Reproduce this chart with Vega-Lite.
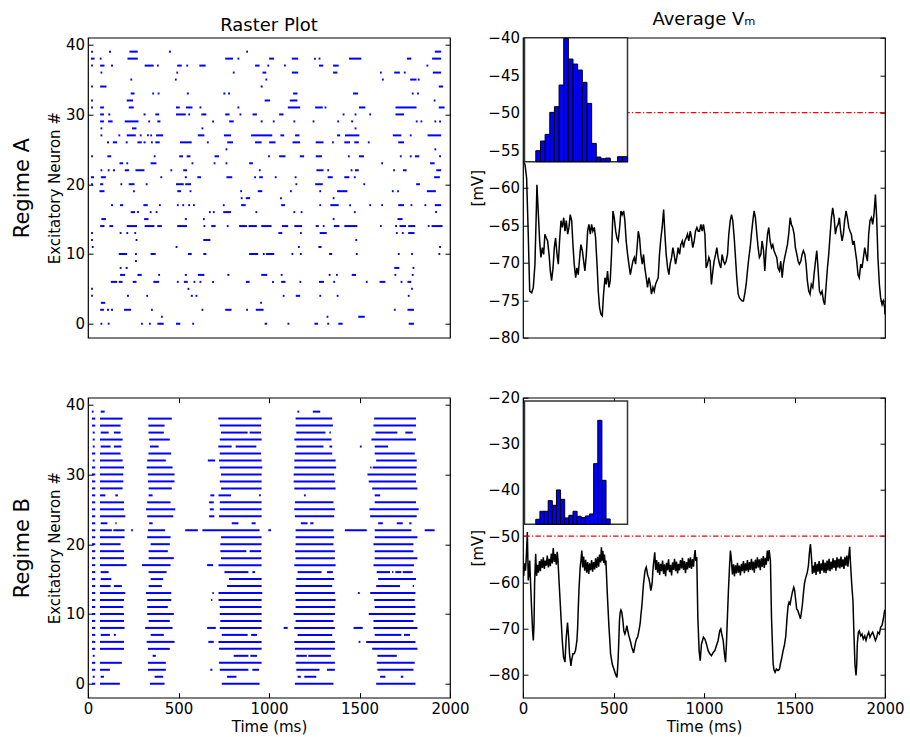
{
"$schema": "https://vega.github.io/schema/vega-lite/v6.json",
"background": "white",
"padding": {"left": 10, "top": 9.7, "right": 5, "bottom": 0},
"spacing": 43,
"config": {
  "font": "DejaVu Sans",
  "view": {"stroke": "#000", "strokeWidth": 1.2},
  "axis": {"domain": false, "grid": false, "tickColor": "#000", "tickSize": -5, "tickWidth": 1, "labelFont": "DejaVu Sans", "labelFontSize": 15, "labelColor": "#000", "labelPadding": 8.5, "labelFlush": false, "labelOverlap": false, "titleFont": "DejaVu Sans", "titleFontSize": 15, "titleFontWeight": "normal", "titleColor": "#000", "format": "d"},
  "axisX": {"titlePadding": 3},
  "axisY": {"titlePadding": 2.5},
  "title": {"font": "DejaVu Sans", "fontSize": 18, "fontWeight": "normal", "color": "#000"}
},
"datasets": {
"rasterA": [
{"n":39,"t0":17,"t1":27},{"n":39,"t0":116,"t1":127},{"n":39,"t0":229,"t1":275},{"n":39,"t0":447,"t1":458},{"n":39,"t0":874,"t1":884},{"n":39,"t0":1916,"t1":1951},
{"n":38,"t0":16,"t1":36},{"n":38,"t0":65,"t1":75},{"n":38,"t0":218,"t1":275},{"n":38,"t0":758,"t1":801},{"n":38,"t0":826,"t1":836},{"n":38,"t0":1001,"t1":1028},{"n":38,"t0":1126,"t1":1161},{"n":38,"t0":1249,"t1":1259},{"n":38,"t0":1274,"t1":1284},{"n":38,"t0":1442,"t1":1510},{"n":38,"t0":1762,"t1":1786},{"n":38,"t0":1901,"t1":1951},
{"n":37,"t0":17,"t1":27},{"n":37,"t0":67,"t1":91},{"n":37,"t0":127,"t1":138},{"n":37,"t0":313,"t1":363},{"n":37,"t0":381,"t1":391},{"n":37,"t0":493,"t1":518},{"n":37,"t0":543,"t1":553},{"n":37,"t0":615,"t1":650},{"n":37,"t0":923,"t1":948},{"n":37,"t0":991,"t1":1001},{"n":37,"t0":1083,"t1":1093},{"n":37,"t0":1276,"t1":1300},{"n":37,"t0":1354,"t1":1385},{"n":37,"t0":1870,"t1":1880},
{"n":36,"t0":69,"t1":79},{"n":36,"t0":488,"t1":498},{"n":36,"t0":800,"t1":810},{"n":36,"t0":964,"t1":985},{"n":36,"t0":1126,"t1":1161},{"n":36,"t0":1354,"t1":1378},{"n":36,"t0":1613,"t1":1623},{"n":36,"t0":1692,"t1":1723},{"n":36,"t0":1745,"t1":1755},{"n":36,"t0":1905,"t1":1951},
{"n":35,"t0":234,"t1":244},{"n":35,"t0":480,"t1":490},{"n":35,"t0":980,"t1":990},{"n":35,"t0":1624,"t1":1634},{"n":35,"t0":1780,"t1":1815},{"n":35,"t0":1822,"t1":1832},
{"n":34,"t0":17,"t1":27},{"n":34,"t0":67,"t1":102},{"n":34,"t0":954,"t1":965},{"n":34,"t0":1938,"t1":1962},
{"n":33,"t0":236,"t1":257},{"n":33,"t0":355,"t1":365},{"n":33,"t0":385,"t1":395},{"n":33,"t0":546,"t1":557},{"n":33,"t0":748,"t1":759},{"n":33,"t0":774,"t1":785},{"n":33,"t0":1133,"t1":1157},{"n":33,"t0":1464,"t1":1492},{"n":33,"t0":1789,"t1":1799},{"n":33,"t0":1818,"t1":1828},
{"n":32,"t0":17,"t1":27},{"n":32,"t0":214,"t1":249},{"n":32,"t0":976,"t1":1006},{"n":32,"t0":1115,"t1":1157},{"n":32,"t0":1910,"t1":1920},
{"n":31,"t0":17,"t1":27},{"n":31,"t0":67,"t1":88},{"n":31,"t0":225,"t1":253},{"n":31,"t0":486,"t1":507},{"n":31,"t0":541,"t1":577},{"n":31,"t0":616,"t1":626},{"n":31,"t0":826,"t1":836},{"n":31,"t0":1104,"t1":1172},{"n":31,"t0":1255,"t1":1297},{"n":31,"t0":1307,"t1":1317},{"n":31,"t0":1497,"t1":1532},{"n":31,"t0":1699,"t1":1815},{"n":31,"t0":1938,"t1":1970},
{"n":30,"t0":67,"t1":88},{"n":30,"t0":112,"t1":123},{"n":30,"t0":307,"t1":318},{"n":30,"t0":372,"t1":393},{"n":30,"t0":486,"t1":540},{"n":30,"t0":554,"t1":564},{"n":30,"t0":626,"t1":654},{"n":30,"t0":758,"t1":782},{"n":30,"t0":837,"t1":847},{"n":30,"t0":909,"t1":933},{"n":30,"t0":1056,"t1":1080},{"n":30,"t0":1407,"t1":1417},{"n":30,"t0":1473,"t1":1483},{"n":30,"t0":1554,"t1":1564},{"n":30,"t0":1699,"t1":1746},
{"n":29,"t0":67,"t1":88},{"n":29,"t0":111,"t1":136},{"n":29,"t0":203,"t1":279},{"n":29,"t0":333,"t1":343},{"n":29,"t0":383,"t1":400},{"n":29,"t0":686,"t1":696},{"n":29,"t0":780,"t1":805},{"n":29,"t0":954,"t1":965},{"n":29,"t0":1021,"t1":1031},{"n":29,"t0":1135,"t1":1145},{"n":29,"t0":1241,"t1":1251},{"n":29,"t0":1377,"t1":1387},{"n":29,"t0":1454,"t1":1465},{"n":29,"t0":1811,"t1":1821},{"n":29,"t0":1837,"t1":1847},{"n":29,"t0":1914,"t1":1924},{"n":29,"t0":1940,"t1":1950},
{"n":28,"t0":69,"t1":79},{"n":28,"t0":243,"t1":268},{"n":28,"t0":627,"t1":637},{"n":28,"t0":1473,"t1":1483},
{"n":27,"t0":69,"t1":79},{"n":27,"t0":168,"t1":178},{"n":27,"t0":214,"t1":264},{"n":27,"t0":286,"t1":296},{"n":27,"t0":326,"t1":336},{"n":27,"t0":344,"t1":354},{"n":27,"t0":376,"t1":415},{"n":27,"t0":607,"t1":643},{"n":27,"t0":751,"t1":790},{"n":27,"t0":901,"t1":1018},{"n":27,"t0":1063,"t1":1084},{"n":27,"t0":1144,"t1":1168},{"n":27,"t0":1376,"t1":1393},{"n":27,"t0":1420,"t1":1499},{"n":27,"t0":1684,"t1":1731},{"n":27,"t0":1778,"t1":1788},{"n":27,"t0":1876,"t1":1951},
{"n":26,"t0":105,"t1":116},{"n":26,"t0":137,"t1":161},{"n":26,"t0":208,"t1":219},{"n":26,"t0":273,"t1":297},{"n":26,"t0":307,"t1":318},{"n":26,"t0":348,"t1":358},{"n":26,"t0":372,"t1":396},{"n":26,"t0":508,"t1":573},{"n":26,"t0":657,"t1":667},{"n":26,"t0":769,"t1":801},{"n":26,"t0":923,"t1":959},{"n":26,"t0":1001,"t1":1036},{"n":26,"t0":1130,"t1":1172},{"n":26,"t0":1258,"t1":1301},{"n":26,"t0":1348,"t1":1358},{"n":26,"t0":1416,"t1":1448},{"n":26,"t0":1471,"t1":1496},{"n":26,"t0":1546,"t1":1556},{"n":26,"t0":1714,"t1":1746},
{"n":25,"t0":760,"t1":770},{"n":25,"t0":1914,"t1":1924},
{"n":24,"t0":17,"t1":27},{"n":24,"t0":107,"t1":128},{"n":24,"t0":363,"t1":373},{"n":24,"t0":504,"t1":525},{"n":24,"t0":545,"t1":566},{"n":24,"t0":699,"t1":724},{"n":24,"t0":995,"t1":1005},{"n":24,"t0":1056,"t1":1091},{"n":24,"t0":1170,"t1":1194},{"n":24,"t0":1258,"t1":1293},{"n":24,"t0":1436,"t1":1446},{"n":24,"t0":1497,"t1":1525},{"n":24,"t0":1723,"t1":1733},{"n":24,"t0":1778,"t1":1788},{"n":24,"t0":1806,"t1":1830},{"n":24,"t0":1940,"t1":1950},
{"n":23,"t0":174,"t1":194},{"n":23,"t0":212,"t1":222},{"n":23,"t0":346,"t1":378},{"n":23,"t0":572,"t1":582},{"n":23,"t0":694,"t1":704},{"n":23,"t0":760,"t1":770},{"n":23,"t0":890,"t1":911},{"n":23,"t0":1620,"t1":1630},{"n":23,"t0":1890,"t1":1915},
{"n":22,"t0":69,"t1":79},{"n":22,"t0":109,"t1":119},{"n":22,"t0":138,"t1":149},{"n":22,"t0":203,"t1":227},{"n":22,"t0":262,"t1":312},{"n":22,"t0":455,"t1":465},{"n":22,"t0":526,"t1":547},{"n":22,"t0":944,"t1":954},{"n":22,"t0":1262,"t1":1301},{"n":22,"t0":1322,"t1":1332},{"n":22,"t0":1451,"t1":1461},{"n":22,"t0":1475,"t1":1496},{"n":22,"t0":1686,"t1":1696},{"n":22,"t0":1740,"t1":1760},{"n":22,"t0":1924,"t1":1951},
{"n":21,"t0":16,"t1":33},{"n":21,"t0":71,"t1":99},{"n":21,"t0":400,"t1":410},{"n":21,"t0":535,"t1":546},{"n":21,"t0":604,"t1":624},{"n":21,"t0":765,"t1":797},{"n":21,"t0":918,"t1":928},{"n":21,"t0":946,"t1":966},{"n":21,"t0":1032,"t1":1042},{"n":21,"t0":1142,"t1":1152},{"n":21,"t0":1324,"t1":1352},{"n":21,"t0":1416,"t1":1444},{"n":21,"t0":1469,"t1":1479},{"n":21,"t0":1912,"t1":1944},
{"n":20,"t0":17,"t1":27},{"n":20,"t0":67,"t1":84},{"n":20,"t0":179,"t1":189},{"n":20,"t0":225,"t1":257},{"n":20,"t0":319,"t1":329},{"n":20,"t0":486,"t1":529},{"n":20,"t0":537,"t1":569},{"n":20,"t0":1146,"t1":1156},{"n":20,"t0":1255,"t1":1297},{"n":20,"t0":1521,"t1":1531},{"n":20,"t0":1813,"t1":1834},
{"n":19,"t0":63,"t1":91},{"n":19,"t0":249,"t1":259},{"n":19,"t0":493,"t1":514},{"n":19,"t0":561,"t1":571},{"n":19,"t0":841,"t1":851},{"n":19,"t0":938,"t1":963},{"n":19,"t0":1116,"t1":1126},{"n":19,"t0":1278,"t1":1288},{"n":19,"t0":1376,"t1":1433},{"n":19,"t0":1679,"t1":1689},{"n":19,"t0":1708,"t1":1718},{"n":19,"t0":1872,"t1":1922},
{"n":18,"t0":844,"t1":854},{"n":18,"t0":872,"t1":896},{"n":18,"t0":1061,"t1":1071},{"n":18,"t0":1352,"t1":1362},
{"n":17,"t0":127,"t1":138},{"n":17,"t0":177,"t1":194},{"n":17,"t0":306,"t1":330},{"n":17,"t0":392,"t1":402},{"n":17,"t0":491,"t1":501},{"n":17,"t0":521,"t1":531},{"n":17,"t0":554,"t1":564},{"n":17,"t0":580,"t1":590},{"n":17,"t0":745,"t1":755},{"n":17,"t0":846,"t1":871},{"n":17,"t0":1067,"t1":1088},{"n":17,"t0":1278,"t1":1288},{"n":17,"t0":1339,"t1":1385},{"n":17,"t0":1443,"t1":1453},{"n":17,"t0":1554,"t1":1564},{"n":17,"t0":1620,"t1":1630},{"n":17,"t0":1714,"t1":1746},{"n":17,"t0":1782,"t1":1792},{"n":17,"t0":1859,"t1":1869},{"n":17,"t0":1916,"t1":1951},
{"n":16,"t0":236,"t1":260},{"n":16,"t0":271,"t1":281},{"n":16,"t0":341,"t1":351},{"n":16,"t0":374,"t1":384},{"n":16,"t0":668,"t1":678},{"n":16,"t0":690,"t1":700},{"n":16,"t0":747,"t1":790},{"n":16,"t0":925,"t1":935},{"n":16,"t0":1135,"t1":1145},{"n":16,"t0":1175,"t1":1185},{"n":16,"t0":1469,"t1":1479},{"n":16,"t0":1918,"t1":1928},
{"n":15,"t0":74,"t1":99},{"n":15,"t0":310,"t1":334},{"n":15,"t0":535,"t1":546},{"n":15,"t0":635,"t1":645},{"n":15,"t0":1352,"t1":1362},{"n":15,"t0":1710,"t1":1738},
{"n":14,"t0":67,"t1":91},{"n":14,"t0":118,"t1":139},{"n":14,"t0":214,"t1":271},{"n":14,"t0":313,"t1":367},{"n":14,"t0":383,"t1":408},{"n":14,"t0":493,"t1":547},{"n":14,"t0":638,"t1":648},{"n":14,"t0":681,"t1":705},{"n":14,"t0":767,"t1":777},{"n":14,"t0":835,"t1":878},{"n":14,"t0":887,"t1":933},{"n":14,"t0":957,"t1":1014},{"n":14,"t0":1071,"t1":1106},{"n":14,"t0":1140,"t1":1183},{"n":14,"t0":1258,"t1":1275},{"n":14,"t0":1297,"t1":1307},{"n":14,"t0":1358,"t1":1389},{"n":14,"t0":1416,"t1":1488},{"n":14,"t0":1613,"t1":1623},{"n":14,"t0":1697,"t1":1707},{"n":14,"t0":1721,"t1":1757},{"n":14,"t0":1769,"t1":1808},{"n":14,"t0":1877,"t1":1887},{"n":14,"t0":1898,"t1":1959},
{"n":13,"t0":17,"t1":27},{"n":13,"t0":175,"t1":185},{"n":13,"t0":212,"t1":222},{"n":13,"t0":256,"t1":266},{"n":13,"t0":1052,"t1":1073},{"n":13,"t0":1171,"t1":1181},{"n":13,"t0":1280,"t1":1319},{"n":13,"t0":1701,"t1":1711},{"n":13,"t0":1734,"t1":1744},{"n":13,"t0":1769,"t1":1804},
{"n":12,"t0":17,"t1":27},{"n":12,"t0":263,"t1":273},{"n":12,"t0":637,"t1":676},{"n":12,"t0":1477,"t1":1487},
{"n":11,"t0":21,"t1":31},{"n":11,"t0":484,"t1":494},{"n":11,"t0":1160,"t1":1170},{"n":11,"t0":1273,"t1":1290},{"n":11,"t0":1940,"t1":1950},
{"n":10,"t0":170,"t1":216},{"n":10,"t0":260,"t1":270},{"n":10,"t0":346,"t1":374},{"n":10,"t0":552,"t1":573},{"n":10,"t0":637,"t1":654},{"n":10,"t0":890,"t1":940},{"n":10,"t0":966,"t1":976},{"n":10,"t0":983,"t1":1029},{"n":10,"t0":1124,"t1":1134},{"n":10,"t0":1171,"t1":1181},{"n":10,"t0":1332,"t1":1349},{"n":10,"t0":1480,"t1":1490},{"n":10,"t0":1712,"t1":1722},{"n":10,"t0":1785,"t1":1795},{"n":10,"t0":1936,"t1":1946},
{"n":9,"t0":260,"t1":270},
{"n":8,"t0":175,"t1":185},{"n":8,"t0":208,"t1":219},{"n":8,"t0":1692,"t1":1720},{"n":8,"t0":1793,"t1":1803},
{"n":7,"t0":177,"t1":205},{"n":7,"t0":273,"t1":297},{"n":7,"t0":388,"t1":398},{"n":7,"t0":535,"t1":546},{"n":7,"t0":607,"t1":643},{"n":7,"t0":770,"t1":781},{"n":7,"t0":957,"t1":990},{"n":7,"t0":1065,"t1":1075},{"n":7,"t0":1330,"t1":1340},{"n":7,"t0":1370,"t1":1380},{"n":7,"t0":1457,"t1":1481},{"n":7,"t0":1693,"t1":1703},{"n":7,"t0":1789,"t1":1799},
{"n":6,"t0":126,"t1":161},{"n":6,"t0":170,"t1":191},{"n":6,"t0":247,"t1":268},{"n":6,"t0":361,"t1":393},{"n":6,"t0":491,"t1":501},{"n":6,"t0":530,"t1":551},{"n":6,"t0":583,"t1":593},{"n":6,"t0":616,"t1":626},{"n":6,"t0":686,"t1":696},{"n":6,"t0":872,"t1":893},{"n":6,"t0":1017,"t1":1027},{"n":6,"t0":1067,"t1":1091},{"n":6,"t0":1168,"t1":1178},{"n":6,"t0":1276,"t1":1304},{"n":6,"t0":1355,"t1":1365},{"n":6,"t0":1535,"t1":1545},{"n":6,"t0":1611,"t1":1643},{"n":6,"t0":1727,"t1":1737},{"n":6,"t0":1765,"t1":1786},
{"n":5,"t0":17,"t1":27},{"n":5,"t0":550,"t1":560},{"n":5,"t0":1785,"t1":1795},
{"n":4,"t0":17,"t1":27},{"n":4,"t0":215,"t1":226},{"n":4,"t0":322,"t1":332},{"n":4,"t0":568,"t1":579},{"n":4,"t0":594,"t1":604},{"n":4,"t0":1076,"t1":1086},{"n":4,"t0":1148,"t1":1172},{"n":4,"t0":1278,"t1":1288},{"n":4,"t0":1374,"t1":1384},{"n":4,"t0":1767,"t1":1777},
{"n":3,"t0":71,"t1":95},{"n":3,"t0":951,"t1":961},
{"n":2,"t0":67,"t1":88},{"n":2,"t0":105,"t1":116},{"n":2,"t0":127,"t1":138},{"n":2,"t0":199,"t1":238},{"n":2,"t0":348,"t1":358},{"n":2,"t0":627,"t1":637},{"n":2,"t0":758,"t1":793},{"n":2,"t0":874,"t1":884},{"n":2,"t0":927,"t1":970},{"n":2,"t0":1690,"t1":1700},{"n":2,"t0":1765,"t1":1801},
{"n":1,"t0":403,"t1":413},{"n":1,"t0":1318,"t1":1328},{"n":1,"t0":1493,"t1":1529},
{"n":0,"t0":69,"t1":79},{"n":0,"t0":109,"t1":119},{"n":0,"t0":293,"t1":303},{"n":0,"t0":337,"t1":347},{"n":0,"t0":383,"t1":418},{"n":0,"t0":486,"t1":510},{"n":0,"t0":576,"t1":586},{"n":0,"t0":976,"t1":990},{"n":0,"t0":1102,"t1":1112},{"n":0,"t0":1251,"t1":1271},{"n":0,"t0":1322,"t1":1332},{"n":0,"t0":1383,"t1":1407},{"n":0,"t0":1772,"t1":1801}
],
"rasterB": [
{"n":39,"t0":21,"t1":31},{"n":39,"t0":70,"t1":92},{"n":39,"t0":1157,"t1":1167},{"n":39,"t0":1242,"t1":1283},
{"n":38,"t0":22,"t1":40},{"n":38,"t0":66,"t1":191},{"n":38,"t0":331,"t1":463},{"n":38,"t0":720,"t1":959},{"n":38,"t0":1147,"t1":1349},{"n":38,"t0":1581,"t1":1812},
{"n":37,"t0":22,"t1":40},{"n":37,"t0":66,"t1":180},{"n":37,"t0":334,"t1":423},{"n":37,"t0":728,"t1":956},{"n":37,"t0":1147,"t1":1353},{"n":37,"t0":1577,"t1":1812},
{"n":36,"t0":26,"t1":37},{"n":36,"t0":70,"t1":114},{"n":36,"t0":143,"t1":180},{"n":36,"t0":334,"t1":419},{"n":36,"t0":735,"t1":882},{"n":36,"t0":893,"t1":956},{"n":36,"t0":1151,"t1":1312},{"n":36,"t0":1334,"t1":1342},{"n":36,"t0":1588,"t1":1709},{"n":36,"t0":1753,"t1":1794},
{"n":35,"t0":26,"t1":37},{"n":35,"t0":66,"t1":191},{"n":35,"t0":338,"t1":452},{"n":35,"t0":728,"t1":959},{"n":35,"t0":1140,"t1":1345},{"n":35,"t0":1566,"t1":1812},
{"n":34,"t0":26,"t1":37},{"n":34,"t0":70,"t1":125},{"n":34,"t0":143,"t1":184},{"n":34,"t0":342,"t1":390},{"n":34,"t0":720,"t1":794},{"n":34,"t0":816,"t1":930},{"n":34,"t0":1151,"t1":1301},{"n":34,"t0":1334,"t1":1349},{"n":34,"t0":1502,"t1":1512},{"n":34,"t0":1584,"t1":1658},
{"n":33,"t0":22,"t1":40},{"n":33,"t0":66,"t1":180},{"n":33,"t0":334,"t1":459},{"n":33,"t0":728,"t1":956},{"n":33,"t0":1143,"t1":1349},{"n":33,"t0":1584,"t1":1805},
{"n":32,"t0":26,"t1":37},{"n":32,"t0":66,"t1":191},{"n":32,"t0":327,"t1":430},{"n":32,"t0":662,"t1":702},{"n":32,"t0":724,"t1":959},{"n":32,"t0":1140,"t1":1368},{"n":32,"t0":1592,"t1":1816},
{"n":31,"t0":22,"t1":40},{"n":31,"t0":66,"t1":199},{"n":31,"t0":324,"t1":467},{"n":31,"t0":728,"t1":963},{"n":31,"t0":1140,"t1":1371},{"n":31,"t0":1559,"t1":1566},{"n":31,"t0":1573,"t1":1816},
{"n":30,"t0":22,"t1":40},{"n":30,"t0":66,"t1":195},{"n":30,"t0":331,"t1":478},{"n":30,"t0":735,"t1":959},{"n":30,"t0":1136,"t1":1360},{"n":30,"t0":1544,"t1":1812},
{"n":29,"t0":22,"t1":40},{"n":29,"t0":66,"t1":195},{"n":29,"t0":331,"t1":478},{"n":29,"t0":728,"t1":959},{"n":29,"t0":1136,"t1":1364},{"n":29,"t0":1551,"t1":1812},
{"n":28,"t0":22,"t1":40},{"n":28,"t0":66,"t1":191},{"n":28,"t0":335,"t1":463},{"n":28,"t0":735,"t1":959},{"n":28,"t0":1140,"t1":1368},{"n":28,"t0":1570,"t1":1820},
{"n":27,"t0":22,"t1":40},{"n":27,"t0":66,"t1":96},{"n":27,"t0":151,"t1":165},{"n":27,"t0":335,"t1":357},{"n":27,"t0":676,"t1":698},{"n":27,"t0":721,"t1":790},{"n":27,"t0":945,"t1":955},{"n":27,"t0":1193,"t1":1203},{"n":27,"t0":1584,"t1":1614},
{"n":26,"t0":22,"t1":40},{"n":26,"t0":66,"t1":199},{"n":26,"t0":327,"t1":456},{"n":26,"t0":669,"t1":695},{"n":26,"t0":728,"t1":959},{"n":26,"t0":1143,"t1":1356},{"n":26,"t0":1584,"t1":1812},
{"n":25,"t0":22,"t1":40},{"n":25,"t0":66,"t1":199},{"n":25,"t0":320,"t1":482},{"n":25,"t0":673,"t1":695},{"n":25,"t0":728,"t1":959},{"n":25,"t0":1140,"t1":1364},{"n":25,"t0":1555,"t1":1827},
{"n":24,"t0":22,"t1":40},{"n":24,"t0":66,"t1":206},{"n":24,"t0":327,"t1":471},{"n":24,"t0":669,"t1":698},{"n":24,"t0":724,"t1":959},{"n":24,"t0":1143,"t1":1360},{"n":24,"t0":1559,"t1":1816},
{"n":23,"t0":22,"t1":40},{"n":23,"t0":70,"t1":107},{"n":23,"t0":151,"t1":158},{"n":23,"t0":338,"t1":357},{"n":23,"t0":794,"t1":831},{"n":23,"t0":904,"t1":926},{"n":23,"t0":1176,"t1":1213},{"n":23,"t0":1228,"t1":1246},{"n":23,"t0":1603,"t1":1629},{"n":23,"t0":1706,"t1":1739},{"n":23,"t0":1775,"t1":1787},
{"n":22,"t0":22,"t1":40},{"n":22,"t0":66,"t1":132},{"n":22,"t0":140,"t1":202},{"n":22,"t0":238,"t1":248},{"n":22,"t0":331,"t1":426},{"n":22,"t0":537,"t1":607},{"n":22,"t0":632,"t1":948},{"n":22,"t0":996,"t1":1011},{"n":22,"t0":1147,"t1":1356},{"n":22,"t0":1419,"t1":1540},{"n":22,"t0":1584,"t1":1787},{"n":22,"t0":1860,"t1":1915},
{"n":21,"t0":22,"t1":40},{"n":21,"t0":66,"t1":202},{"n":21,"t0":327,"t1":456},{"n":21,"t0":735,"t1":959},{"n":21,"t0":1147,"t1":1360},{"n":21,"t0":1584,"t1":1820},
{"n":20,"t0":22,"t1":40},{"n":20,"t0":66,"t1":180},{"n":20,"t0":346,"t1":452},{"n":20,"t0":731,"t1":959},{"n":20,"t0":1147,"t1":1356},{"n":20,"t0":1577,"t1":1798},
{"n":19,"t0":22,"t1":40},{"n":19,"t0":66,"t1":199},{"n":19,"t0":335,"t1":441},{"n":19,"t0":731,"t1":875},{"n":19,"t0":893,"t1":956},{"n":19,"t0":1143,"t1":1364},{"n":19,"t0":1584,"t1":1798},
{"n":18,"t0":22,"t1":40},{"n":18,"t0":66,"t1":199},{"n":18,"t0":335,"t1":474},{"n":18,"t0":735,"t1":959},{"n":18,"t0":1147,"t1":1364},{"n":18,"t0":1584,"t1":1820},
{"n":17,"t0":22,"t1":40},{"n":17,"t0":66,"t1":213},{"n":17,"t0":298,"t1":456},{"n":17,"t0":658,"t1":691},{"n":17,"t0":721,"t1":959},{"n":17,"t0":1140,"t1":1368},{"n":17,"t0":1577,"t1":1801},
{"n":16,"t0":22,"t1":40},{"n":16,"t0":70,"t1":114},{"n":16,"t0":335,"t1":434},{"n":16,"t0":754,"t1":886},{"n":16,"t0":908,"t1":923},{"n":16,"t0":1158,"t1":1290},{"n":16,"t0":1320,"t1":1353},{"n":16,"t0":1595,"t1":1669},{"n":16,"t0":1680,"t1":1687},{"n":16,"t0":1698,"t1":1731},{"n":16,"t0":1739,"t1":1794},
{"n":15,"t0":22,"t1":40},{"n":15,"t0":70,"t1":129},{"n":15,"t0":346,"t1":415},{"n":15,"t0":779,"t1":959},{"n":15,"t0":1151,"t1":1360},{"n":15,"t0":1603,"t1":1812},
{"n":14,"t0":22,"t1":40},{"n":14,"t0":66,"t1":125},{"n":14,"t0":143,"t1":187},{"n":14,"t0":335,"t1":408},{"n":14,"t0":768,"t1":959},{"n":14,"t0":1147,"t1":1349},{"n":14,"t0":1592,"t1":1724},{"n":14,"t0":1794,"t1":1801},
{"n":13,"t0":22,"t1":40},{"n":13,"t0":66,"t1":206},{"n":13,"t0":320,"t1":460},{"n":13,"t0":687,"t1":695},{"n":13,"t0":721,"t1":963},{"n":13,"t0":1143,"t1":1364},{"n":13,"t0":1491,"t1":1501},{"n":13,"t0":1559,"t1":1809},
{"n":12,"t0":22,"t1":40},{"n":12,"t0":66,"t1":199},{"n":12,"t0":327,"t1":460},{"n":12,"t0":680,"t1":687},{"n":12,"t0":721,"t1":959},{"n":12,"t0":1147,"t1":1368},{"n":12,"t0":1581,"t1":1805},
{"n":11,"t0":22,"t1":40},{"n":11,"t0":66,"t1":195},{"n":11,"t0":327,"t1":441},{"n":11,"t0":728,"t1":959},{"n":11,"t0":1147,"t1":1364},{"n":11,"t0":1584,"t1":1809},
{"n":10,"t0":22,"t1":40},{"n":10,"t0":66,"t1":199},{"n":10,"t0":327,"t1":474},{"n":10,"t0":728,"t1":959},{"n":10,"t0":1136,"t1":1364},{"n":10,"t0":1551,"t1":1809},
{"n":9,"t0":22,"t1":40},{"n":9,"t0":66,"t1":199},{"n":9,"t0":335,"t1":452},{"n":9,"t0":731,"t1":959},{"n":9,"t0":1147,"t1":1356},{"n":9,"t0":1577,"t1":1798},
{"n":8,"t0":22,"t1":40},{"n":8,"t0":66,"t1":202},{"n":8,"t0":316,"t1":467},{"n":8,"t0":658,"t1":706},{"n":8,"t0":728,"t1":959},{"n":8,"t0":1081,"t1":1103},{"n":8,"t0":1140,"t1":1364},{"n":8,"t0":1467,"t1":1518},{"n":8,"t0":1577,"t1":1820},
{"n":7,"t0":22,"t1":40},{"n":7,"t0":70,"t1":121},{"n":7,"t0":143,"t1":154},{"n":7,"t0":346,"t1":419},{"n":7,"t0":739,"t1":882},{"n":7,"t0":901,"t1":934},{"n":7,"t0":1158,"t1":1349},{"n":7,"t0":1584,"t1":1731},{"n":7,"t0":1746,"t1":1779},
{"n":6,"t0":22,"t1":40},{"n":6,"t0":66,"t1":199},{"n":6,"t0":324,"t1":478},{"n":6,"t0":665,"t1":695},{"n":6,"t0":721,"t1":959},{"n":6,"t0":1140,"t1":1364},{"n":6,"t0":1495,"t1":1505},{"n":6,"t0":1537,"t1":1809},
{"n":5,"t0":22,"t1":40},{"n":5,"t0":66,"t1":199},{"n":5,"t0":331,"t1":452},{"n":5,"t0":724,"t1":959},{"n":5,"t0":1143,"t1":1364},{"n":5,"t0":1570,"t1":1820},
{"n":4,"t0":26,"t1":37},{"n":4,"t0":357,"t1":375},{"n":4,"t0":805,"t1":886},{"n":4,"t0":897,"t1":934},{"n":4,"t0":1151,"t1":1209},{"n":4,"t0":1217,"t1":1342},{"n":4,"t0":1599,"t1":1706},
{"n":3,"t0":22,"t1":40},{"n":3,"t0":66,"t1":187},{"n":3,"t0":331,"t1":430},{"n":3,"t0":724,"t1":959},{"n":3,"t0":1147,"t1":1364},{"n":3,"t0":1595,"t1":1805},
{"n":2,"t0":22,"t1":40},{"n":2,"t0":66,"t1":121},{"n":2,"t0":331,"t1":430},{"n":2,"t0":676,"t1":687},{"n":2,"t0":728,"t1":886},{"n":2,"t0":908,"t1":945},{"n":2,"t0":1151,"t1":1279},{"n":2,"t0":1320,"t1":1364},{"n":2,"t0":1599,"t1":1798},
{"n":1,"t0":26,"t1":37},{"n":1,"t0":70,"t1":88},{"n":1,"t0":368,"t1":415},{"n":1,"t0":768,"t1":820},{"n":1,"t0":1158,"t1":1176},{"n":1,"t0":1195,"t1":1261},{"n":1,"t0":1614,"t1":1643},{"n":1,"t0":1728,"t1":1742},
{"n":0,"t0":22,"t1":40},{"n":0,"t0":66,"t1":176},{"n":0,"t0":342,"t1":423},{"n":0,"t0":739,"t1":948},{"n":0,"t0":1143,"t1":1356},{"n":0,"t0":1592,"t1":1809}
],
"vmA": [
{"t":0,"v":-56.4},{"t":11,"v":-56.9},{"t":20,"v":-58.7},{"t":29,"v":-66.2},{"t":37,"v":-73.8},{"t":48,"v":-74.0},{"t":57,"v":-73.3},{"t":66,"v":-70.2},{"t":74,"v":-62.7},{"t":77,"v":-59.6},
{"t":85,"v":-63.6},{"t":92,"v":-67.1},{"t":99,"v":-69.3},{"t":107,"v":-68.0},{"t":114,"v":-68.9},{"t":121,"v":-66.2},{"t":129,"v":-66.7},{"t":136,"v":-67.1},{"t":144,"v":-68.9},{"t":151,"v":-71.1},
{"t":158,"v":-72.4},{"t":166,"v":-70.7},{"t":173,"v":-68.0},{"t":180,"v":-66.7},{"t":188,"v":-68.9},{"t":195,"v":-70.2},{"t":202,"v":-67.1},{"t":210,"v":-64.4},{"t":217,"v":-65.3},{"t":225,"v":-64.0},
{"t":232,"v":-65.8},{"t":239,"v":-64.4},{"t":247,"v":-66.2},{"t":254,"v":-65.3},{"t":261,"v":-63.6},{"t":269,"v":-64.4},{"t":276,"v":-67.6},{"t":283,"v":-70.2},{"t":291,"v":-72.0},{"t":298,"v":-70.7},
{"t":305,"v":-71.6},{"t":313,"v":-69.3},{"t":320,"v":-67.6},{"t":328,"v":-68.4},{"t":335,"v":-69.8},{"t":342,"v":-71.1},{"t":350,"v":-68.9},{"t":357,"v":-65.8},{"t":364,"v":-64.9},{"t":372,"v":-66.2},
{"t":379,"v":-64.9},{"t":386,"v":-65.8},{"t":394,"v":-65.3},{"t":401,"v":-66.7},{"t":409,"v":-70.2},{"t":416,"v":-73.8},{"t":423,"v":-76.0},{"t":431,"v":-76.9},{"t":438,"v":-77.1},{"t":445,"v":-74.2},
{"t":453,"v":-72.0},{"t":460,"v":-72.9},{"t":467,"v":-71.1},{"t":475,"v":-73.3},{"t":482,"v":-72.4},{"t":489,"v":-68.9},{"t":497,"v":-63.1},{"t":504,"v":-64.0},{"t":512,"v":-65.8},{"t":519,"v":-66.7},
{"t":526,"v":-67.1},{"t":534,"v":-65.3},{"t":541,"v":-63.1},{"t":548,"v":-63.6},{"t":556,"v":-63.1},{"t":563,"v":-64.4},{"t":570,"v":-67.1},{"t":578,"v":-68.9},{"t":585,"v":-70.2},{"t":593,"v":-71.6},
{"t":600,"v":-70.7},{"t":607,"v":-69.8},{"t":615,"v":-69.3},{"t":622,"v":-70.2},{"t":629,"v":-68.4},{"t":637,"v":-65.8},{"t":644,"v":-66.7},{"t":651,"v":-68.9},{"t":659,"v":-70.2},{"t":666,"v":-68.9},
{"t":673,"v":-70.7},{"t":681,"v":-72.0},{"t":688,"v":-73.3},{"t":696,"v":-72.0},{"t":703,"v":-72.9},{"t":710,"v":-74.2},{"t":718,"v":-73.3},{"t":725,"v":-73.8},{"t":732,"v":-72.9},{"t":740,"v":-72.4},
{"t":747,"v":-72.0},{"t":754,"v":-68.9},{"t":762,"v":-66.7},{"t":769,"v":-65.3},{"t":777,"v":-62.9},{"t":784,"v":-66.2},{"t":791,"v":-68.9},{"t":799,"v":-70.7},{"t":806,"v":-71.6},{"t":813,"v":-70.2},
{"t":821,"v":-69.3},{"t":828,"v":-68.0},{"t":835,"v":-68.9},{"t":843,"v":-70.2},{"t":850,"v":-69.3},{"t":857,"v":-68.0},{"t":865,"v":-68.9},{"t":872,"v":-67.6},{"t":880,"v":-67.1},{"t":887,"v":-68.0},
{"t":894,"v":-67.1},{"t":902,"v":-66.7},{"t":909,"v":-66.2},{"t":916,"v":-67.1},{"t":924,"v":-65.8},{"t":931,"v":-66.7},{"t":938,"v":-68.0},{"t":946,"v":-67.1},{"t":953,"v":-65.8},{"t":961,"v":-65.3},
{"t":968,"v":-65.8},{"t":975,"v":-65.8},{"t":983,"v":-64.9},{"t":990,"v":-65.8},{"t":997,"v":-64.9},{"t":1005,"v":-66.2},{"t":1012,"v":-70.7},{"t":1019,"v":-70.2},{"t":1027,"v":-69.3},{"t":1034,"v":-69.8},
{"t":1041,"v":-72.9},{"t":1049,"v":-71.1},{"t":1056,"v":-69.8},{"t":1064,"v":-68.9},{"t":1071,"v":-68.0},{"t":1078,"v":-69.3},{"t":1086,"v":-70.2},{"t":1093,"v":-70.7},{"t":1100,"v":-68.9},{"t":1108,"v":-69.8},
{"t":1115,"v":-70.2},{"t":1122,"v":-69.8},{"t":1130,"v":-68.9},{"t":1137,"v":-66.2},{"t":1145,"v":-64.4},{"t":1152,"v":-63.6},{"t":1159,"v":-64.4},{"t":1167,"v":-66.7},{"t":1174,"v":-69.3},{"t":1181,"v":-72.0},
{"t":1189,"v":-74.2},{"t":1196,"v":-74.7},{"t":1203,"v":-74.9},{"t":1211,"v":-75.1},{"t":1218,"v":-75.1},{"t":1225,"v":-74.2},{"t":1233,"v":-72.9},{"t":1240,"v":-71.1},{"t":1248,"v":-69.3},{"t":1255,"v":-68.0},
{"t":1262,"v":-66.2},{"t":1270,"v":-64.4},{"t":1277,"v":-63.1},{"t":1284,"v":-64.0},{"t":1292,"v":-66.2},{"t":1299,"v":-68.0},{"t":1306,"v":-69.3},{"t":1314,"v":-68.9},{"t":1321,"v":-67.1},{"t":1329,"v":-68.4},
{"t":1336,"v":-71.1},{"t":1343,"v":-68.4},{"t":1351,"v":-66.2},{"t":1358,"v":-65.3},{"t":1365,"v":-67.1},{"t":1373,"v":-68.0},{"t":1380,"v":-67.6},{"t":1387,"v":-68.4},{"t":1395,"v":-68.9},{"t":1402,"v":-69.3},
{"t":1409,"v":-70.7},{"t":1417,"v":-71.1},{"t":1424,"v":-69.8},{"t":1432,"v":-72.0},{"t":1439,"v":-70.2},{"t":1446,"v":-69.3},{"t":1454,"v":-68.4},{"t":1461,"v":-67.6},{"t":1468,"v":-66.2},{"t":1476,"v":-64.0},
{"t":1483,"v":-64.9},{"t":1490,"v":-65.3},{"t":1498,"v":-66.2},{"t":1505,"v":-68.0},{"t":1513,"v":-68.9},{"t":1520,"v":-69.8},{"t":1527,"v":-70.2},{"t":1535,"v":-69.8},{"t":1542,"v":-68.9},{"t":1549,"v":-68.4},
{"t":1557,"v":-68.9},{"t":1564,"v":-70.2},{"t":1571,"v":-72.4},{"t":1579,"v":-73.8},{"t":1586,"v":-74.2},{"t":1593,"v":-72.9},{"t":1601,"v":-73.3},{"t":1608,"v":-71.6},{"t":1616,"v":-69.8},{"t":1623,"v":-68.4},
{"t":1630,"v":-70.7},{"t":1638,"v":-73.8},{"t":1645,"v":-74.2},{"t":1652,"v":-73.8},{"t":1660,"v":-75.1},{"t":1667,"v":-75.6},{"t":1674,"v":-73.3},{"t":1682,"v":-70.7},{"t":1689,"v":-68.9},{"t":1697,"v":-66.2},
{"t":1704,"v":-64.0},{"t":1711,"v":-62.7},{"t":1719,"v":-64.0},{"t":1726,"v":-66.2},{"t":1733,"v":-65.3},{"t":1741,"v":-64.9},{"t":1748,"v":-64.0},{"t":1755,"v":-65.8},{"t":1763,"v":-67.1},{"t":1770,"v":-66.2},
{"t":1777,"v":-64.4},{"t":1785,"v":-63.1},{"t":1792,"v":-64.0},{"t":1800,"v":-65.3},{"t":1807,"v":-65.8},{"t":1814,"v":-66.2},{"t":1822,"v":-67.6},{"t":1829,"v":-67.1},{"t":1836,"v":-68.4},{"t":1844,"v":-69.8},
{"t":1851,"v":-71.6},{"t":1858,"v":-72.0},{"t":1866,"v":-70.2},{"t":1873,"v":-70.7},{"t":1881,"v":-69.3},{"t":1888,"v":-68.0},{"t":1895,"v":-68.9},{"t":1903,"v":-69.8},{"t":1910,"v":-66.2},{"t":1917,"v":-64.4},
{"t":1925,"v":-64.0},{"t":1932,"v":-64.9},{"t":1939,"v":-63.6},{"t":1947,"v":-60.9},{"t":1954,"v":-64.0},{"t":1961,"v":-69.3},{"t":1969,"v":-72.9},{"t":1976,"v":-74.7},{"t":1984,"v":-75.6},{"t":1991,"v":-75.1},
{"t":1998,"v":-76.0},{"t":2000,"v":-76.9}
],
"vmB": [
{"t":0,"v":-56.5},{"t":4,"v":-58.6},{"t":8,"v":-55.9},{"t":11,"v":-56.4},{"t":14,"v":-57.5},{"t":18,"v":-54.6},{"t":21,"v":-52.0},{"t":24,"v":-49.1},{"t":27,"v":-55.3},{"t":29,"v":-59.6},
{"t":33,"v":-58.2},{"t":37,"v":-55.3},{"t":42,"v":-60.3},{"t":48,"v":-66.1},{"t":53,"v":-70.5},{"t":57,"v":-72.6},{"t":61,"v":-69.0},{"t":64,"v":-60.3},{"t":70,"v":-53.8},
{"t":75,"v":-58.6},{"t":80,"v":-56.2},{"t":85,"v":-57.9},{"t":91,"v":-55.4},{"t":96,"v":-57.6},{"t":101,"v":-55.0},{"t":107,"v":-56.9},{"t":112,"v":-54.6},{"t":118,"v":-57.1},{"t":123,"v":-55.3},
{"t":129,"v":-56.4},{"t":134,"v":-54.2},{"t":140,"v":-56.8},{"t":145,"v":-54.9},{"t":151,"v":-56.5},{"t":156,"v":-53.8},{"t":162,"v":-55.9},{"t":167,"v":-52.6},{"t":173,"v":-55.6},{"t":178,"v":-53.9},
{"t":184,"v":-56.2},{"t":189,"v":-53.4},{"t":193,"v":-55.0},
{"t":195,"v":-56.7},{"t":202,"v":-61.8},{"t":210,"v":-67.6},{"t":217,"v":-72.6},{"t":224,"v":-76.2},{"t":232,"v":-77.3},{"t":235,"v":-74.8},{"t":239,"v":-71.9},{"t":246,"v":-68.7},{"t":252,"v":-71.9},
{"t":257,"v":-75.5},{"t":265,"v":-78.1},{"t":268,"v":-77.0},{"t":276,"v":-75.5},{"t":283,"v":-75.5},{"t":290,"v":-74.8},{"t":298,"v":-72.6},{"t":302,"v":-69.7},{"t":305,"v":-66.1},{"t":309,"v":-61.8},
{"t":313,"v":-58.9},{"t":316,"v":-56.7},{"t":320,"v":-55.3},{"t":325,"v":-53.1},
{"t":330,"v":-56.8},{"t":335,"v":-54.4},{"t":341,"v":-57.5},{"t":346,"v":-55.1},{"t":352,"v":-57.9},{"t":357,"v":-55.6},{"t":363,"v":-58.2},{"t":368,"v":-55.9},{"t":374,"v":-57.4},{"t":379,"v":-55.2},
{"t":385,"v":-57.7},{"t":390,"v":-55.6},{"t":396,"v":-57.2},{"t":401,"v":-54.8},{"t":407,"v":-56.9},{"t":412,"v":-54.5},{"t":418,"v":-56.6},{"t":423,"v":-54.0},{"t":429,"v":-55.7},{"t":433,"v":-52.4},
{"t":437,"v":-55.3},{"t":441,"v":-53.2},{"t":446,"v":-55.8},{"t":450,"v":-54.0},{"t":455,"v":-56.3},
{"t":458,"v":-55.3},{"t":465,"v":-61.8},{"t":474,"v":-69.0},{"t":484,"v":-75.5},{"t":493,"v":-77.7},{"t":502,"v":-78.8},{"t":511,"v":-79.9},{"t":519,"v":-80.6},{"t":522,"v":-79.1},{"t":526,"v":-76.3},
{"t":530,"v":-71.9},{"t":533,"v":-68.3},{"t":537,"v":-66.5},{"t":541,"v":-66.0},{"t":546,"v":-66.5},{"t":552,"v":-68.3},{"t":557,"v":-70.5},{"t":563,"v":-71.2},{"t":568,"v":-70.5},{"t":574,"v":-69.4},
{"t":579,"v":-70.5},{"t":585,"v":-71.6},{"t":590,"v":-72.3},{"t":596,"v":-73.2},{"t":601,"v":-74.1},{"t":607,"v":-74.8},{"t":611,"v":-75.3},{"t":616,"v":-74.2},{"t":622,"v":-73.0},{"t":627,"v":-72.3},
{"t":633,"v":-71.9},{"t":638,"v":-71.0},{"t":644,"v":-69.7},{"t":648,"v":-68.7},{"t":651,"v":-67.2},{"t":655,"v":-65.8},{"t":659,"v":-64.0},{"t":662,"v":-62.2},{"t":666,"v":-60.3},{"t":670,"v":-58.9},
{"t":673,"v":-57.8},{"t":677,"v":-57.1},{"t":681,"v":-56.7},{"t":684,"v":-57.3},{"t":688,"v":-58.3},{"t":692,"v":-58.8},{"t":695,"v":-59.1},{"t":701,"v":-60.3},{"t":706,"v":-61.8},{"t":710,"v":-61.1},
{"t":714,"v":-60.0},{"t":717,"v":-57.8},{"t":721,"v":-56.0},{"t":725,"v":-54.6},{"t":728,"v":-53.5},
{"t":733,"v":-57.3},{"t":738,"v":-55.2},{"t":744,"v":-57.9},{"t":749,"v":-55.6},{"t":755,"v":-58.4},{"t":760,"v":-56.0},{"t":766,"v":-57.6},{"t":771,"v":-55.3},{"t":777,"v":-58.2},{"t":782,"v":-56.1},
{"t":788,"v":-58.7},{"t":793,"v":-55.8},{"t":799,"v":-57.4},{"t":804,"v":-55.0},{"t":810,"v":-57.8},{"t":815,"v":-56.2},{"t":821,"v":-58.5},{"t":826,"v":-55.7},{"t":832,"v":-57.3},{"t":837,"v":-54.9},
{"t":843,"v":-57.6},{"t":848,"v":-55.5},{"t":854,"v":-58.1},{"t":859,"v":-56.0},{"t":865,"v":-57.4},{"t":870,"v":-55.2},{"t":876,"v":-57.0},{"t":881,"v":-54.7},{"t":887,"v":-57.3},{"t":892,"v":-55.4},
{"t":898,"v":-58.0},{"t":903,"v":-55.6},{"t":909,"v":-57.2},{"t":914,"v":-54.8},{"t":920,"v":-56.9},{"t":925,"v":-54.6},{"t":931,"v":-57.1},{"t":936,"v":-55.0},{"t":942,"v":-56.6},{"t":947,"v":-54.2},
{"t":951,"v":-53.0},{"t":955,"v":-55.4},{"t":960,"v":-54.5},
{"t":966,"v":-67.6},{"t":973,"v":-74.8},{"t":979,"v":-77.0},{"t":986,"v":-73.4},{"t":997,"v":-71.9},{"t":1005,"v":-72.3},{"t":1014,"v":-73.4},{"t":1023,"v":-74.8},{"t":1032,"v":-75.5},{"t":1041,"v":-75.9},
{"t":1051,"v":-75.2},{"t":1060,"v":-74.8},{"t":1069,"v":-73.7},{"t":1078,"v":-72.6},{"t":1087,"v":-70.5},{"t":1093,"v":-70.1},{"t":1098,"v":-71.2},{"t":1106,"v":-72.6},{"t":1113,"v":-75.5},{"t":1119,"v":-77.3},
{"t":1124,"v":-73.4},{"t":1130,"v":-66.9},{"t":1135,"v":-61.8},{"t":1141,"v":-56.7},{"t":1146,"v":-53.1},{"t":1152,"v":-55.3},
{"t":1157,"v":-58.3},{"t":1163,"v":-56.1},{"t":1168,"v":-58.7},{"t":1174,"v":-56.3},{"t":1179,"v":-58.1},{"t":1185,"v":-55.8},{"t":1190,"v":-57.9},{"t":1196,"v":-56.4},{"t":1201,"v":-58.5},{"t":1207,"v":-56.0},
{"t":1212,"v":-57.6},{"t":1218,"v":-55.4},{"t":1223,"v":-58.0},{"t":1229,"v":-55.9},{"t":1234,"v":-57.5},{"t":1240,"v":-55.2},{"t":1245,"v":-57.8},{"t":1251,"v":-55.6},{"t":1256,"v":-57.3},{"t":1262,"v":-54.9},
{"t":1267,"v":-57.4},{"t":1273,"v":-55.5},{"t":1278,"v":-57.9},{"t":1284,"v":-55.1},{"t":1289,"v":-57.0},{"t":1295,"v":-54.6},{"t":1300,"v":-56.8},{"t":1306,"v":-55.0},{"t":1311,"v":-57.4},{"t":1317,"v":-54.8},
{"t":1322,"v":-56.6},{"t":1328,"v":-54.3},{"t":1333,"v":-56.9},{"t":1339,"v":-54.7},{"t":1344,"v":-56.2},{"t":1350,"v":-53.1},{"t":1355,"v":-55.4},{"t":1360,"v":-53.0},
{"t":1367,"v":-55.3},{"t":1373,"v":-67.6},{"t":1378,"v":-73.4},{"t":1382,"v":-77.7},{"t":1387,"v":-79.0},{"t":1393,"v":-79.5},{"t":1400,"v":-78.8},{"t":1409,"v":-79.1},{"t":1417,"v":-78.8},{"t":1422,"v":-77.7},
{"t":1430,"v":-76.3},{"t":1437,"v":-74.8},{"t":1444,"v":-73.7},{"t":1452,"v":-71.6},{"t":1459,"v":-67.6},{"t":1465,"v":-65.0},{"t":1470,"v":-64.3},{"t":1476,"v":-64.7},{"t":1481,"v":-63.6},{"t":1488,"v":-62.2},
{"t":1496,"v":-61.1},{"t":1501,"v":-61.8},{"t":1507,"v":-64.0},{"t":1512,"v":-65.8},{"t":1518,"v":-66.1},{"t":1525,"v":-66.9},{"t":1533,"v":-67.9},{"t":1538,"v":-66.5},{"t":1544,"v":-64.7},{"t":1549,"v":-62.5},
{"t":1555,"v":-60.3},{"t":1560,"v":-59.3},{"t":1566,"v":-58.5},{"t":1571,"v":-57.8},{"t":1577,"v":-56.4},{"t":1582,"v":-53.8},{"t":1588,"v":-51.7},{"t":1591,"v":-53.1},{"t":1595,"v":-55.3},{"t":1599,"v":-58.2},
{"t":1603,"v":-56.4},
{"t":1608,"v":-57.9},{"t":1614,"v":-55.6},{"t":1619,"v":-58.4},{"t":1625,"v":-56.0},{"t":1630,"v":-57.7},{"t":1636,"v":-55.4},{"t":1641,"v":-58.2},{"t":1647,"v":-55.9},{"t":1652,"v":-57.5},{"t":1658,"v":-55.1},
{"t":1663,"v":-57.9},{"t":1669,"v":-55.7},{"t":1674,"v":-58.0},{"t":1680,"v":-55.3},{"t":1685,"v":-57.4},{"t":1691,"v":-54.9},{"t":1696,"v":-57.6},{"t":1702,"v":-55.5},{"t":1707,"v":-57.2},{"t":1713,"v":-54.8},
{"t":1718,"v":-56.9},{"t":1724,"v":-55.2},{"t":1729,"v":-57.5},{"t":1735,"v":-54.6},{"t":1740,"v":-56.8},{"t":1746,"v":-54.9},{"t":1751,"v":-57.0},{"t":1757,"v":-54.4},{"t":1762,"v":-56.7},{"t":1768,"v":-55.0},
{"t":1773,"v":-57.1},{"t":1779,"v":-54.5},{"t":1784,"v":-56.4},{"t":1790,"v":-54.2},{"t":1795,"v":-56.6},{"t":1801,"v":-53.9},{"t":1805,"v":-52.3},{"t":1809,"v":-55.6},
{"t":1816,"v":-60.3},{"t":1823,"v":-64.0},{"t":1829,"v":-71.9},{"t":1834,"v":-77.7},{"t":1840,"v":-80.2},{"t":1844,"v":-77.7},{"t":1847,"v":-73.4},{"t":1853,"v":-70.8},{"t":1858,"v":-70.5},{"t":1866,"v":-71.6},
{"t":1873,"v":-71.2},{"t":1880,"v":-72.3},{"t":1888,"v":-71.6},{"t":1895,"v":-72.6},{"t":1902,"v":-71.6},{"t":1910,"v":-70.8},{"t":1917,"v":-71.9},{"t":1925,"v":-71.2},{"t":1932,"v":-70.8},{"t":1939,"v":-71.6},
{"t":1947,"v":-72.6},{"t":1954,"v":-71.9},{"t":1961,"v":-70.8},{"t":1969,"v":-71.2},{"t":1976,"v":-69.7},{"t":1983,"v":-69.4},{"t":1991,"v":-67.9},{"t":1998,"v":-66.1},{"t":2000,"v":-66.0}
],
"histA": [
{"lo":-77.57,"hi":-76.57,"count":33},{"lo":-76.57,"hi":-75.57,"count":62},{"lo":-75.57,"hi":-74.57,"count":82},{"lo":-74.57,"hi":-73.57,"count":148},{"lo":-73.57,"hi":-72.57,"count":165},{"lo":-72.57,"hi":-71.57,"count":230},
{"lo":-71.57,"hi":-70.57,"count":370},{"lo":-70.57,"hi":-69.57,"count":308},{"lo":-69.57,"hi":-68.57,"count":293},{"lo":-68.57,"hi":-67.57,"count":275},{"lo":-67.57,"hi":-66.57,"count":238},{"lo":-66.57,"hi":-65.57,"count":175},
{"lo":-65.57,"hi":-64.57,"count":55},{"lo":-64.57,"hi":-63.57,"count":14},{"lo":-63.57,"hi":-62.57,"count":9},{"lo":-62.57,"hi":-61.57,"count":11},{"lo":-60.0,"hi":-58.93,"count":15},{"lo":-58.93,"hi":-57.86,"count":15}
],
"histB": [
{"lo":-78.18,"hi":-76.78,"count":15},{"lo":-76.78,"hi":-75.38,"count":39},{"lo":-75.38,"hi":-73.98,"count":39},{"lo":-73.98,"hi":-72.58,"count":71},{"lo":-72.58,"hi":-71.18,"count":57},{"lo":-71.18,"hi":-69.78,"count":103},
{"lo":-69.78,"hi":-68.38,"count":75},{"lo":-68.38,"hi":-66.98,"count":19},{"lo":-66.98,"hi":-65.58,"count":27},{"lo":-65.58,"hi":-64.18,"count":39},{"lo":-64.18,"hi":-62.78,"count":24},{"lo":-62.78,"hi":-61.38,"count":20},
{"lo":-61.38,"hi":-59.98,"count":25},{"lo":-59.98,"hi":-58.58,"count":31},{"lo":-58.58,"hi":-57.18,"count":182},{"lo":-57.18,"hi":-55.78,"count":312},{"lo":-55.78,"hi":-54.38,"count":132},{"lo":-54.38,"hi":-52.98,"count":16}
]
},
"vconcat": [
{
"bounds": "flush",
"spacing": 73,
"hconcat": [
{
"width": 362, "height": 300,
"title": {"text": "Raster Plot", "offset": 2.5},
"data": {"name": "rasterA"},
"layer": [
{"mark": {"type": "rule", "color": "#0000ff", "strokeWidth": 2},
 "encoding": {
  "x": {"field": "t0", "type": "quantitative", "scale": {"domain": [0, 2000], "nice": false, "zero": false}, "axis": null},
  "x2": {"field": "t1"},
  "y": {"field": "n", "type": "quantitative", "scale": {"domain": [-2, 41], "nice": false, "zero": false}, "axis": {"orient": "left", "values": [0, 10, 20, 30, 40], "title": "Excitatory Neuron #"}}
 }},
{"mark": {"type": "point", "opacity": 0},
 "encoding": {
  "x": {"field": "t0", "type": "quantitative", "scale": {"domain": [0, 2000], "nice": false, "zero": false}, "axis": null},
  "y": {"field": "n", "type": "quantitative", "scale": {"domain": [-2, 41], "nice": false, "zero": false}, "axis": {"orient": "right", "values": [0, 10, 20, 30, 40], "labels": false, "title": null}}
 }},
{"mark": {"type": "point", "opacity": 0},
 "encoding": {
  "x": {"field": "t0", "type": "quantitative", "scale": {"domain": [0, 2000], "nice": false, "zero": false}, "axis": null},
  "y": {"field": "n", "type": "quantitative", "scale": {"domain": [-2, 41], "nice": false, "zero": false}, "axis": {"orient": "left", "values": [], "labels": false, "ticks": false, "title": "Regime A", "titleFontSize": 21, "titlePadding": 0, "offset": 56}}
 }}
],
"resolve": {"axis": {"y": "independent"}}
},
{
"width": 362, "height": 300,
"title": {"text": "Average Vₘ", "offset": 2},
"layer": [
{"layer": [
 {"data": {"name": "vmA"}, "mark": {"type": "line", "color": "#000", "strokeWidth": 1.5, "clip": true},
  "encoding": {
   "x": {"field": "t", "type": "quantitative", "scale": {"domain": [0, 2000], "nice": false, "zero": false}, "axis": null},
   "y": {"field": "v", "type": "quantitative", "scale": {"domain": [-80, -40], "nice": false, "zero": false}, "axis": {"orient": "left", "values": [-80, -75, -70, -65, -60, -55, -50, -45, -40], "title": "[mV]"}}
  }},
 {"data": {"name": "vmA"}, "mark": {"type": "point", "opacity": 0},
  "encoding": {
   "x": {"field": "t", "type": "quantitative", "scale": {"domain": [0, 2000], "nice": false, "zero": false}, "axis": null},
   "y": {"field": "v", "type": "quantitative", "scale": {"domain": [-80, -40], "nice": false, "zero": false}, "axis": {"orient": "right", "values": [-80, -75, -70, -65, -60, -55, -50, -45, -40], "labels": false, "title": null}}
  }},
 {"data": {"values": [{"v": -50}]}, "mark": {"type": "rule", "color": "#ff0000", "strokeWidth": 1.3, "strokeDash": [5.5, 2.2, 1.2, 2.2]},
  "encoding": {"y": {"field": "v", "type": "quantitative", "scale": {"domain": [-80, -40], "nice": false, "zero": false}, "axis": null}}}
],
"resolve": {"axis": {"y": "independent"}}},
{"layer": [
 {"data": {"values": [{}]}, "mark": {"type": "rect", "fill": "#ffffff", "stroke": "#333333", "strokeWidth": 1.5},
  "encoding": {
   "x": {"datum": -80, "type": "quantitative", "scale": {"domain": [-80, -57.86], "range": [1.5, 104.5], "nice": false, "zero": false}, "axis": null},
   "x2": {"datum": -57.86},
   "y": {"datum": 0, "type": "quantitative", "scale": {"domain": [0, 372], "range": [124, 0], "nice": false, "zero": false}, "axis": null},
   "y2": {"datum": 372}
  }},
 {"data": {"name": "histA"}, "mark": {"type": "rect", "fill": "#0000ff", "stroke": "#000000", "strokeWidth": 1},
  "encoding": {
   "x": {"field": "lo", "type": "quantitative", "scale": {"domain": [-80, -57.86], "range": [1.5, 104.5], "nice": false, "zero": false}, "axis": null},
   "x2": {"field": "hi"},
   "y": {"field": "count", "type": "quantitative", "scale": {"domain": [0, 372], "range": [124, 0], "nice": false, "zero": false}, "axis": null},
   "y2": {"datum": 0}
  }}
]}
],
"resolve": {"scale": {"x": "independent", "y": "independent"}}
}
]
},
{
"bounds": "flush",
"spacing": 73,
"hconcat": [
{
"width": 362, "height": 300,
"data": {"name": "rasterB"},
"layer": [
{"mark": {"type": "rule", "color": "#0000ff", "strokeWidth": 2},
 "encoding": {
  "x": {"field": "t0", "type": "quantitative", "scale": {"domain": [0, 2000], "nice": false, "zero": false}, "axis": {"orient": "bottom", "values": [0, 500, 1000, 1500, 2000], "title": "Time (ms)"}},
  "x2": {"field": "t1"},
  "y": {"field": "n", "type": "quantitative", "scale": {"domain": [-2, 41], "nice": false, "zero": false}, "axis": {"orient": "left", "values": [0, 10, 20, 30, 40], "title": "Excitatory Neuron #"}}
 }},
{"mark": {"type": "point", "opacity": 0},
 "encoding": {
  "x": {"field": "t0", "type": "quantitative", "scale": {"domain": [0, 2000], "nice": false, "zero": false}, "axis": {"orient": "top", "values": [0, 500, 1000, 1500, 2000], "labels": false, "title": null}},
  "y": {"field": "n", "type": "quantitative", "scale": {"domain": [-2, 41], "nice": false, "zero": false}, "axis": {"orient": "right", "values": [0, 10, 20, 30, 40], "labels": false, "title": null}}
 }},
{"mark": {"type": "point", "opacity": 0},
 "encoding": {
  "x": {"field": "t0", "type": "quantitative", "scale": {"domain": [0, 2000], "nice": false, "zero": false}, "axis": null},
  "y": {"field": "n", "type": "quantitative", "scale": {"domain": [-2, 41], "nice": false, "zero": false}, "axis": {"orient": "left", "values": [], "labels": false, "ticks": false, "title": "Regime B", "titleFontSize": 21, "titlePadding": 0, "offset": 56}}
 }}
],
"resolve": {"axis": {"x": "independent", "y": "independent"}}
},
{
"width": 362, "height": 300,
"layer": [
{"layer": [
 {"data": {"name": "vmB"}, "mark": {"type": "line", "color": "#000", "strokeWidth": 1.5, "clip": true},
  "encoding": {
   "x": {"field": "t", "type": "quantitative", "scale": {"domain": [0, 2000], "nice": false, "zero": false}, "axis": {"orient": "bottom", "values": [0, 500, 1000, 1500, 2000], "title": "Time (ms)"}},
   "y": {"field": "v", "type": "quantitative", "scale": {"domain": [-85, -20], "nice": false, "zero": false}, "axis": {"orient": "left", "values": [-80, -70, -60, -50, -40, -30, -20], "title": "[mV]"}}
  }},
 {"data": {"name": "vmB"}, "mark": {"type": "point", "opacity": 0},
  "encoding": {
   "x": {"field": "t", "type": "quantitative", "scale": {"domain": [0, 2000], "nice": false, "zero": false}, "axis": {"orient": "top", "values": [0, 500, 1000, 1500, 2000], "labels": false, "title": null}},
   "y": {"field": "v", "type": "quantitative", "scale": {"domain": [-85, -20], "nice": false, "zero": false}, "axis": {"orient": "right", "values": [-80, -70, -60, -50, -40, -30, -20], "labels": false, "title": null}}
  }},
 {"data": {"values": [{"v": -50}]}, "mark": {"type": "rule", "color": "#ff0000", "strokeWidth": 1.3, "strokeDash": [5.5, 2.2, 1.2, 2.2]},
  "encoding": {"y": {"field": "v", "type": "quantitative", "scale": {"domain": [-85, -20], "nice": false, "zero": false}, "axis": null}}}
],
"resolve": {"axis": {"x": "independent", "y": "independent"}}},
{"layer": [
 {"data": {"values": [{}]}, "mark": {"type": "rect", "fill": "#ffffff", "stroke": "#333333", "strokeWidth": 1.5},
  "encoding": {
   "x": {"datum": -82, "type": "quantitative", "scale": {"domain": [-82, -47.11], "range": [1.5, 104.5], "nice": false, "zero": false}, "axis": null},
   "x2": {"datum": -47.11},
   "y": {"datum": 0, "type": "quantitative", "scale": {"domain": [0, 370], "range": [126.6, 3.3], "nice": false, "zero": false}, "axis": null},
   "y2": {"datum": 370}
  }},
 {"data": {"name": "histB"}, "mark": {"type": "rect", "fill": "#0000ff", "stroke": "#000000", "strokeWidth": 1},
  "encoding": {
   "x": {"field": "lo", "type": "quantitative", "scale": {"domain": [-82, -47.11], "range": [1.5, 104.5], "nice": false, "zero": false}, "axis": null},
   "x2": {"field": "hi"},
   "y": {"field": "count", "type": "quantitative", "scale": {"domain": [0, 370], "range": [126.6, 3.3], "nice": false, "zero": false}, "axis": null},
   "y2": {"datum": 0}
  }}
]}
],
"resolve": {"scale": {"x": "independent", "y": "independent"}}
}
]
}
]
}
